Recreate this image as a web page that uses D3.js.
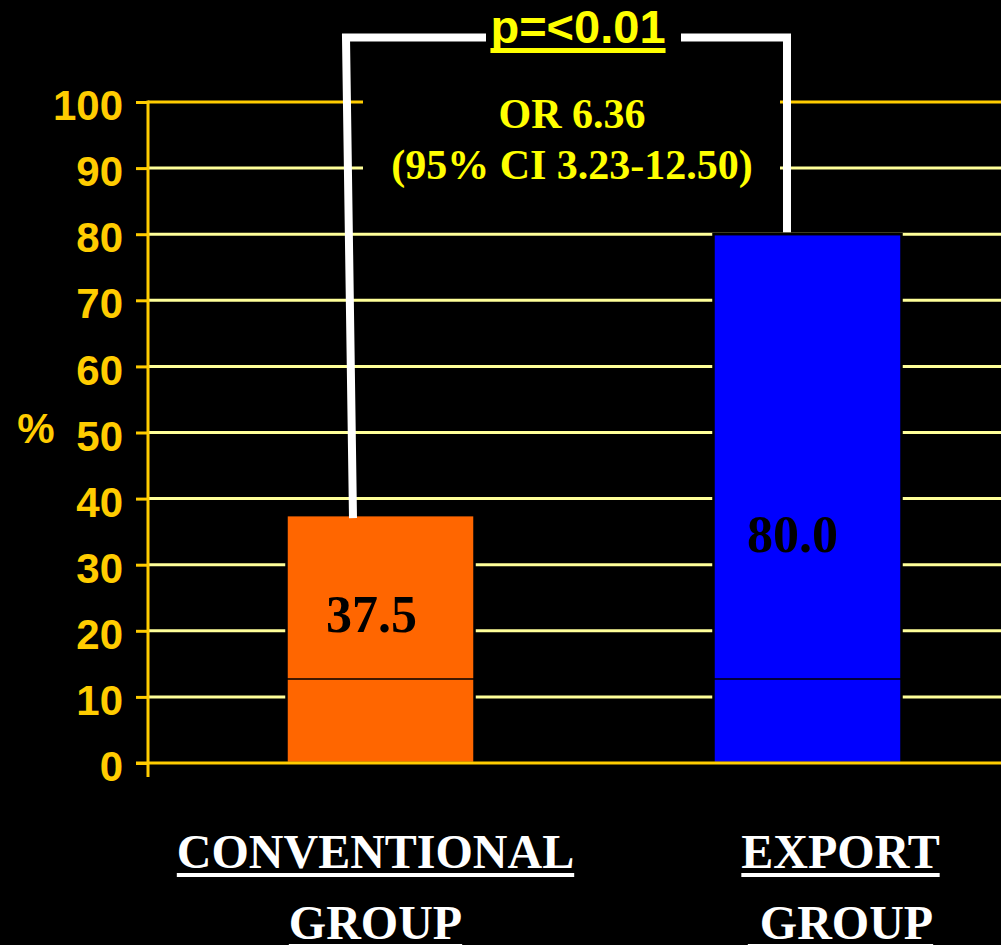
<!DOCTYPE html>
<html>
<head>
  <meta charset="UTF-8">
  <title>Conventional vs Export group</title>
  <style>
    body { margin: 0; background: #000; }
    svg { display: block; }
  </style>
</head>
<body>
<svg></svg>
<script src="https://d3js.org/d3.v7.min.js"></script>
<script>
    // data
    var groups = ["CONVENTIONAL", "EXPORT"];
    var groupLine2 = ["GROUP", " GROUP"];
    var values = [37.5, 80.0];
    var valueLabels = ["37.5", "80.0"];
    var barColors = ["#ff6600", "#0000ff"];
    var yTicks = [0, 10, 20, 30, 40, 50, 60, 70, 80, 90, 100];
    var innerLineValue = 12.7;
    var pValueText = "p=<0.01";
    var oddsText = ["OR 6.36", "(95% CI 3.23-12.50)"];

    let width = 1001, height = 945;

    let svg = d3.select("svg")
        .attr("width", width)
        .attr("height", height);

    svg.append("rect")
        .attr("width", width)
        .attr("height", height)
        .attr("fill", "#000");

    var axisX = 148, rightEdge = 1001;

    var y = d3.scaleLinear()
        .domain([0, 100])
        .range([763, 102]);

    var x = d3.scaleBand()
        .domain(groups)
        .range([158.4, 1029.6])
        .paddingInner(0.5597)
        .paddingOuter(0.3);

    var gold = "#ffcc00", pale = "#ffff99", yellow = "#ffff00";

    // gridlines
    svg.append("g")
        .selectAll("line")
        .data(yTicks.filter(d => d > 0))
        .enter().append("line")
        .attr("x1", axisX)
        .attr("x2", rightEdge)
        .attr("y1", d => y(d))
        .attr("y2", d => y(d))
        .attr("stroke", d => d == 100 ? gold : pale)
        .attr("stroke-width", 3);

    // bars
    svg.append("g")
        .selectAll("rect")
        .data(values)
        .enter().append("rect")
        .attr("x", (d, i) => x(groups[i]))
        .attr("y", d => y(d))
        .attr("width", x.bandwidth())
        .attr("height", d => y(0) - y(d))
        .attr("fill", (d, i) => barColors[i])
        .attr("stroke", "#000")
        .attr("stroke-width", 2.5);

    // thin dark line running through the bars
    svg.append("line")
        .attr("x1", axisX - 2)
        .attr("x2", rightEdge)
        .attr("y1", y(innerLineValue))
        .attr("y2", y(innerLineValue))
        .attr("stroke", "#000")
        .attr("stroke-width", 1.5);

    // axis: ticks, labels, vertical line, baseline
    var yAxis = d3.axisLeft(y)
        .tickValues(yTicks)
        .tickSize(12)
        .tickPadding(13);

    var axisG = svg.append("g")
        .attr("transform", "translate(" + axisX + ",0)")
        .call(yAxis);
    axisG.select(".domain").remove();
    axisG.selectAll(".tick line")
        .attr("stroke", gold)
        .attr("stroke-width", 3);
    axisG.selectAll(".tick text")
        .attr("fill", gold)
        .attr("dy", "0.42em")
        .style("font", "bold 42px 'Liberation Sans', Arial, sans-serif");

    svg.append("line")
        .attr("x1", axisX)
        .attr("x2", axisX)
        .attr("y1", y(100) - 1.5)
        .attr("y2", y(0) + 14)
        .attr("stroke", gold)
        .attr("stroke-width", 3);

    svg.append("line")
        .attr("x1", axisX - 12)
        .attr("x2", rightEdge)
        .attr("y1", y(0))
        .attr("y2", y(0))
        .attr("stroke", gold)
        .attr("stroke-width", 3);

    svg.append("text")
        .attr("x", 36)
        .attr("y", 443)
        .attr("text-anchor", "middle")
        .attr("fill", gold)
        .style("font", "bold 42px 'Liberation Sans', Arial, sans-serif")
        .text("%");

    // value labels inside bars
    var labelShift = [[-9, 117], [-15, 318]];
    svg.append("g")
        .selectAll("text")
        .data(valueLabels)
        .enter().append("text")
        .attr("x", (d, i) => x(groups[i]) + x.bandwidth() / 2 + labelShift[i][0])
        .attr("y", (d, i) => y(values[i]) + labelShift[i][1])
        .attr("text-anchor", "middle")
        .attr("fill", "#000")
        .style("font", "bold 52px 'Liberation Serif', 'Times New Roman', serif")
        .text(d => d);

    // category labels with underline
    var catShift = [-5, 33];
    var serifFont = "bold 48px 'Liberation Serif', 'Times New Roman', serif";
    function underlinedText(txt, cx, baseline) {
        var t = svg.append("text")
            .attr("x", cx)
            .attr("y", baseline)
            .attr("text-anchor", "middle")
            .attr("fill", "#fff")
            .style("font", serifFont)
            .style("white-space", "pre")
            .text(txt);
        var len = t.node().getComputedTextLength();
        svg.append("rect")
            .attr("x", cx - len / 2)
            .attr("y", baseline + 5)
            .attr("width", len)
            .attr("height", 4)
            .attr("fill", "#fff");
    }
    groups.forEach(function(g, i) {
        var cx = x(g) + x.bandwidth() / 2 + catShift[i];
        underlinedText(g, cx, 868);
        underlinedText(groupLine2[i], cx, 939);
    });

    // black box behind the odds ratio text
    svg.append("rect")
        .attr("x", 363)
        .attr("y", 92)
        .attr("width", 417)
        .attr("height", 108)
        .attr("fill", "#000");

    // significance bracket
    var topY = 37.5;
    var leftBottomX = x(groups[0]) + 66.5, leftTopX = x(groups[0]) + 59.5;
    var rightX = x(groups[1]) + 73.5;
    var bracketLine = d3.line();
    svg.append("path")
        .attr("d", bracketLine([[leftBottomX, y(values[0]) + 3], [leftTopX, topY], [486, topY]]))
        .attr("fill", "none")
        .attr("stroke", "#fff")
        .attr("stroke-width", 8);
    svg.append("path")
        .attr("d", bracketLine([[681, topY], [rightX, topY], [rightX, y(values[1]) - 2]]))
        .attr("fill", "none")
        .attr("stroke", "#fff")
        .attr("stroke-width", 8);

    // p value
    var pText = svg.append("text")
        .attr("x", 578)
        .attr("y", 43)
        .attr("text-anchor", "middle")
        .attr("fill", yellow)
        .style("font", "bold 47px 'Liberation Sans', Arial, sans-serif")
        .text(pValueText);
    var pLen = pText.node().getComputedTextLength();
    svg.append("rect")
        .attr("x", 578 - pLen / 2)
        .attr("y", 48)
        .attr("width", pLen)
        .attr("height", 5)
        .attr("fill", yellow);

    // odds ratio
    svg.append("g")
        .selectAll("text")
        .data(oddsText)
        .enter().append("text")
        .attr("x", 572)
        .attr("y", (d, i) => 128 + i * 51)
        .attr("text-anchor", "middle")
        .attr("fill", yellow)
        .style("font", "bold 42px 'Liberation Serif', 'Times New Roman', serif")
        .text(d => d);
</script>
</body>
</html>
